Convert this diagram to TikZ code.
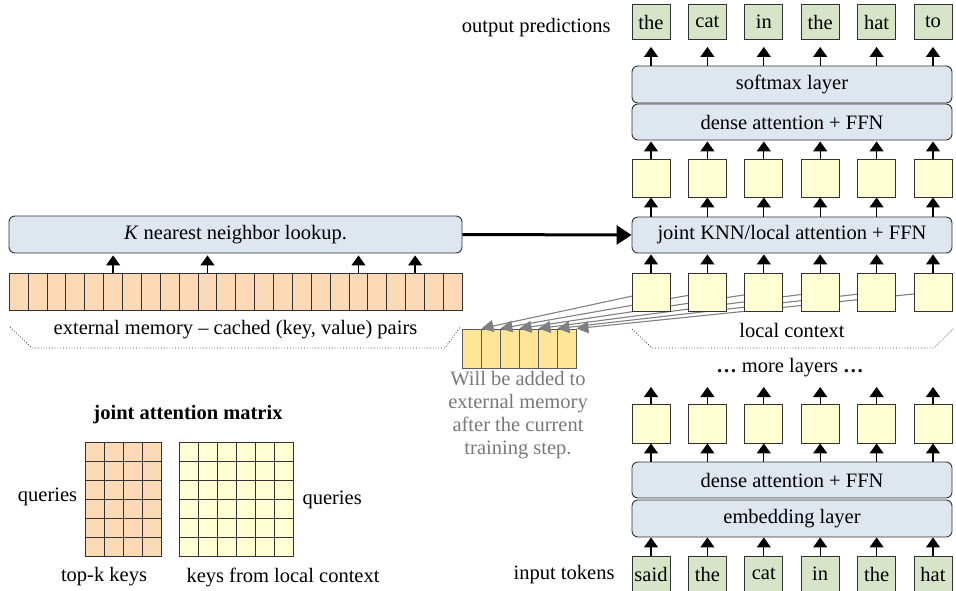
\documentclass[tikz,border=0pt]{standalone}
\usepackage{fontspec}
\setmainfont{Liberation Serif}
\usetikzlibrary{arrows.meta,calc}
\definecolor{layerblue}{RGB}{222,230,240}
\definecolor{tokgreen}{RGB}{216,228,200}
\definecolor{hidyellow}{RGB}{255,255,212}
\definecolor{memorange}{RGB}{252,218,182}
\definecolor{newmem}{RGB}{255,230,150}
\definecolor{edge}{RGB}{50,50,50}
\definecolor{notegray}{RGB}{120,120,120}
\begin{document}
\begin{tikzpicture}[x=1pt,y=-1pt,
  font=\fontsize{20.5}{24}\selectfont,
  layerbox/.style={draw=edge,line width=0.9pt,fill=layerblue,rounded corners=6pt,minimum width=320pt,minimum height=36pt,inner sep=0pt},
  tokbox/.style={draw=edge,line width=0.9pt,fill=tokgreen,minimum width=38pt,minimum height=35pt,inner sep=0pt},
  hidbox/.style={draw=edge,line width=0.9pt,fill=hidyellow,minimum width=38pt,minimum height=38pt,inner sep=0pt},
  memcell/.style={draw=edge,line width=0.9pt,fill=memorange,minimum width=18.875pt,minimum height=37pt,inner sep=0pt},
  newcell/.style={draw=edge!80,line width=0.9pt,fill=newmem,minimum width=19pt,minimum height=39pt,inner sep=0pt},
  uparr/.style={line width=1.3pt,-{Triangle[width=14pt,length=10pt]}},
  bigarr/.style={line width=3pt,-{Triangle[width=19pt,length=15pt]}},
  grayarr/.style={draw=gray,line width=1.1pt,-{Triangle[width=12pt,length=12pt]},gray},
  brace/.style={dotted,line width=0.8pt,edge}
]
\useasboundingbox (0,0) rectangle (956,590);
\clip (0,0) rectangle (956,590);

% ---------- right column layers ----------
\node[layerbox,minimum height=37pt] (soft) at (792,84.5) {softmax layer};
\node[layerbox] (dense1) at (792,122) {dense attention + FFN};
\node[layerbox] (joint) at (792,235) {joint KNN/local attention + FFN};
\node[layerbox] (dense2) at (792,480) {dense attention + FFN};
\node[layerbox,minimum height=37pt] (emb) at (792,518.5) {embedding layer};

% ---------- new memory cells ----------
\foreach \i in {1,...,6}{
  \node[newcell] (n\i) at ({471.5+19*(\i-1)},348.5) {};
}

% ---------- gray copy arrows (behind local context boxes) ----------
\foreach \i in {1,...,6}{
  \coordinate (bc\i) at ({651+56.4*(\i-1)},292);
  \draw[grayarr] (bc\i) -- (n\i.north east);
}

% ---------- token and hidden boxes ----------
\foreach \w [count=\i] in {the,cat,in,the,hat,to}{
  \node[tokbox] (o\i) at ({651+56.4*(\i-1)},22) {\w};
}
\foreach \w [count=\i] in {said,the,cat,in,the,hat}{
  \node[tokbox,minimum height=36pt] (in\i) at ({651+56.4*(\i-1)},574) {\w};
}
\foreach \i in {1,...,6}{
  \node[hidbox] (a\i) at ({651+56.4*(\i-1)},178) {};
  \node[hidbox] (b\i) at (bc\i) {};
  \node[hidbox,minimum height=39pt] (c\i) at ({651+56.4*(\i-1)},423.5) {};
  \coordinate (t\i) at ({651+56.4*(\i-1)},387);
}

% ---------- vertical arrows ----------
\foreach \i in {1,...,6}{
  \draw[uparr,shorten >=7pt] (soft.north -| o\i) -- (o\i.south);
  \draw[uparr,shorten >=1pt] (a\i.north) -- (dense1.south -| a\i);
  \draw[uparr] (joint.north -| a\i) -- (a\i.south);
  \draw[uparr,shorten >=1pt] (b\i.north) -- (joint.south -| b\i);
  \draw[uparr] (c\i.north) -- (t\i);
  \draw[uparr] (dense2.north -| c\i) -- (c\i.south);
  \draw[uparr] (in\i.north) -- (emb.south -| in\i);
}

% ---------- labels right ----------
\node[anchor=east] (outlab) at (614,28) {output predictions};
\node[anchor=east] (inlab) at (618,575) {input tokens};
\node (more) at (790,368) {\textbf{\ldots} more layers \textbf{\ldots}};
\node (loclab) at (792,330) {local context};
\draw[brace] (632,329) -- (652,348) -- (934,348) -- (953,329);

% ---------- left: KNN lookup ----------
\node[layerbox,minimum width=453pt,minimum height=37pt] (knn) at (235.5,234.5) {\textit{K} nearest neighbor lookup.};
\foreach \i in {1,...,24}{
  \node[memcell] (m\i) at ({9.3+18.875*(\i-0.5)},291.5) {};
}
\foreach \i in {6,11,19,22}{
  \draw[uparr,shorten >=2pt] (m\i.north) -- (knn.south -| m\i);
}
\draw[bigarr] (knn.east) -- (joint.west);
\node (extlab) at (235.5,330) {external memory -- cached (key, value) pairs};
\draw[brace] (10,327) -- (32,348) -- (445,348) -- (460,327);

% ---------- note ----------
\node[align=center,text=notegray,font=\fontsize{20.5}{23}\selectfont] (note) at (518,415.5)
  {Will be added to\\external memory\\after the current\\training step.};

% ---------- joint attention matrix ----------
\node[font=\fontsize{20.5}{24}\selectfont\bfseries] (jam) at (188,415) {joint attention matrix};
\filldraw[fill=memorange,draw=edge,line width=0.9pt] (85,442) rectangle (161,556);
\foreach \k in {1,2,3} \draw[edge,line width=0.9pt] ({85+19*\k},442) -- ({85+19*\k},556);
\foreach \k in {1,...,5} \draw[edge,line width=0.9pt] (85,{442+19*\k}) -- (161,{442+19*\k});
\filldraw[fill=hidyellow,draw=edge,line width=0.9pt] (179,442) rectangle (293,556);
\foreach \k in {1,...,5} \draw[edge,line width=0.9pt] ({179+19*\k},442) -- ({179+19*\k},556);
\foreach \k in {1,...,5} \draw[edge,line width=0.9pt] (179,{442+19*\k}) -- (293,{442+19*\k});
\node (q1) at (47.5,497) {queries};
\node[anchor=west] (q2) at (299,500) {queries};
\node (tk) at (104,577) {top-k keys};
\node (kl) at (283,577) {keys from local context};
\end{tikzpicture}
\end{document}
